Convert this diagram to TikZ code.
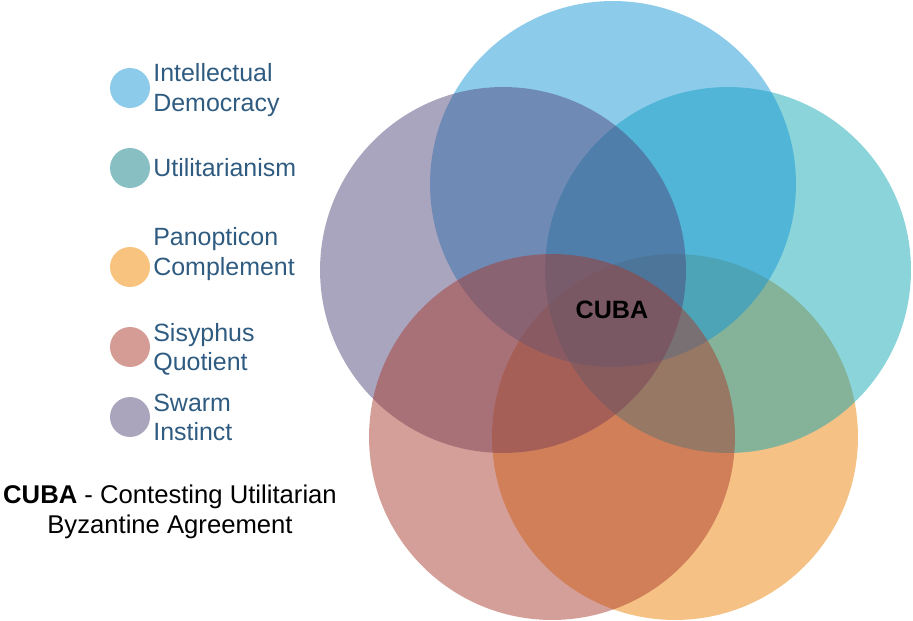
\documentclass[tikz,border=0pt]{standalone}
\usepackage{fontspec}
\setmainfont{Liberation Sans}
\definecolor{idblue}{RGB}{19,148,212}
\definecolor{utteal}{RGB}{13,166,179}
\definecolor{pcorange}{RGB}{236,127,0}
\definecolor{sqpink}{RGB}{168,57,44}
\definecolor{sipurple}{RGB}{79,69,123}
\definecolor{keyblue}{RGB}{140,203,234}
\definecolor{keyteal}{RGB}{136,191,194}
\definecolor{keyorange}{RGB}{247,195,127}
\definecolor{keypink}{RGB}{213,156,150}
\definecolor{keypurple}{RGB}{170,165,189}
\definecolor{keytext}{RGB}{47,91,128}
\tikzset{
  venn/.style={fill opacity=0.484},
  keydot/.style={circle, inner sep=0pt, minimum size=0.8cm},
  keytxt/.style={anchor=west, align=left, inner sep=0pt, text=keytext,
    font=\fontsize{14.2}{16.6}\selectfont},
}
\begin{document}
\begin{tikzpicture}[x=0.02cm, y=-0.02cm]
\useasboundingbox (0,0) rectangle (913,621);
% Venn circles, pink ends up on top
\fill[venn, pcorange] (675,437) circle[radius=3.66cm];
\fill[venn, utteal] (728,270) circle[radius=3.66cm];
\fill[venn, idblue] (613,184) circle[radius=3.66cm];
\fill[venn, sipurple] (503,270) circle[radius=3.66cm];
\fill[venn, sqpink] (552,437) circle[radius=3.66cm];
\node[font=\bfseries\fontsize{14.3}{16}\selectfont] (cuba) at (612,310) {CUBA};
% Legend
\node[keydot, fill=keyblue] (dotid) at (130,88) {};
\node[keydot, fill=keyteal] (dotut) at (130,168) {};
\node[keydot, fill=keyorange] (dotpc) at (130,267) {};
\node[keydot, fill=keypink] (dotsq) at (130,347) {};
\node[keydot, fill=keypurple] (dotsi) at (130,417) {};
\node[keytxt] (txtid) at (153,90) {Intellectual\\Democracy};
\node[keytxt] (txtut) at (153,168) {Utilitarianism};
\node[keytxt] (txtpc) at (153,254) {Panopticon\\Complement};
\node[keytxt] (txtsq) at (153,349) {Sisyphus\\Quotient};
\node[keytxt] (txtsi) at (153,417) {Swarm\\Instinct};
% Acronym note
\node[align=center, inner sep=0pt, font=\fontsize{14.6}{17.1}\selectfont] (note) at (170,512)
  {\textbf{CUBA} - Contesting Utilitarian\\Byzantine Agreement};
\end{tikzpicture}
\end{document}
